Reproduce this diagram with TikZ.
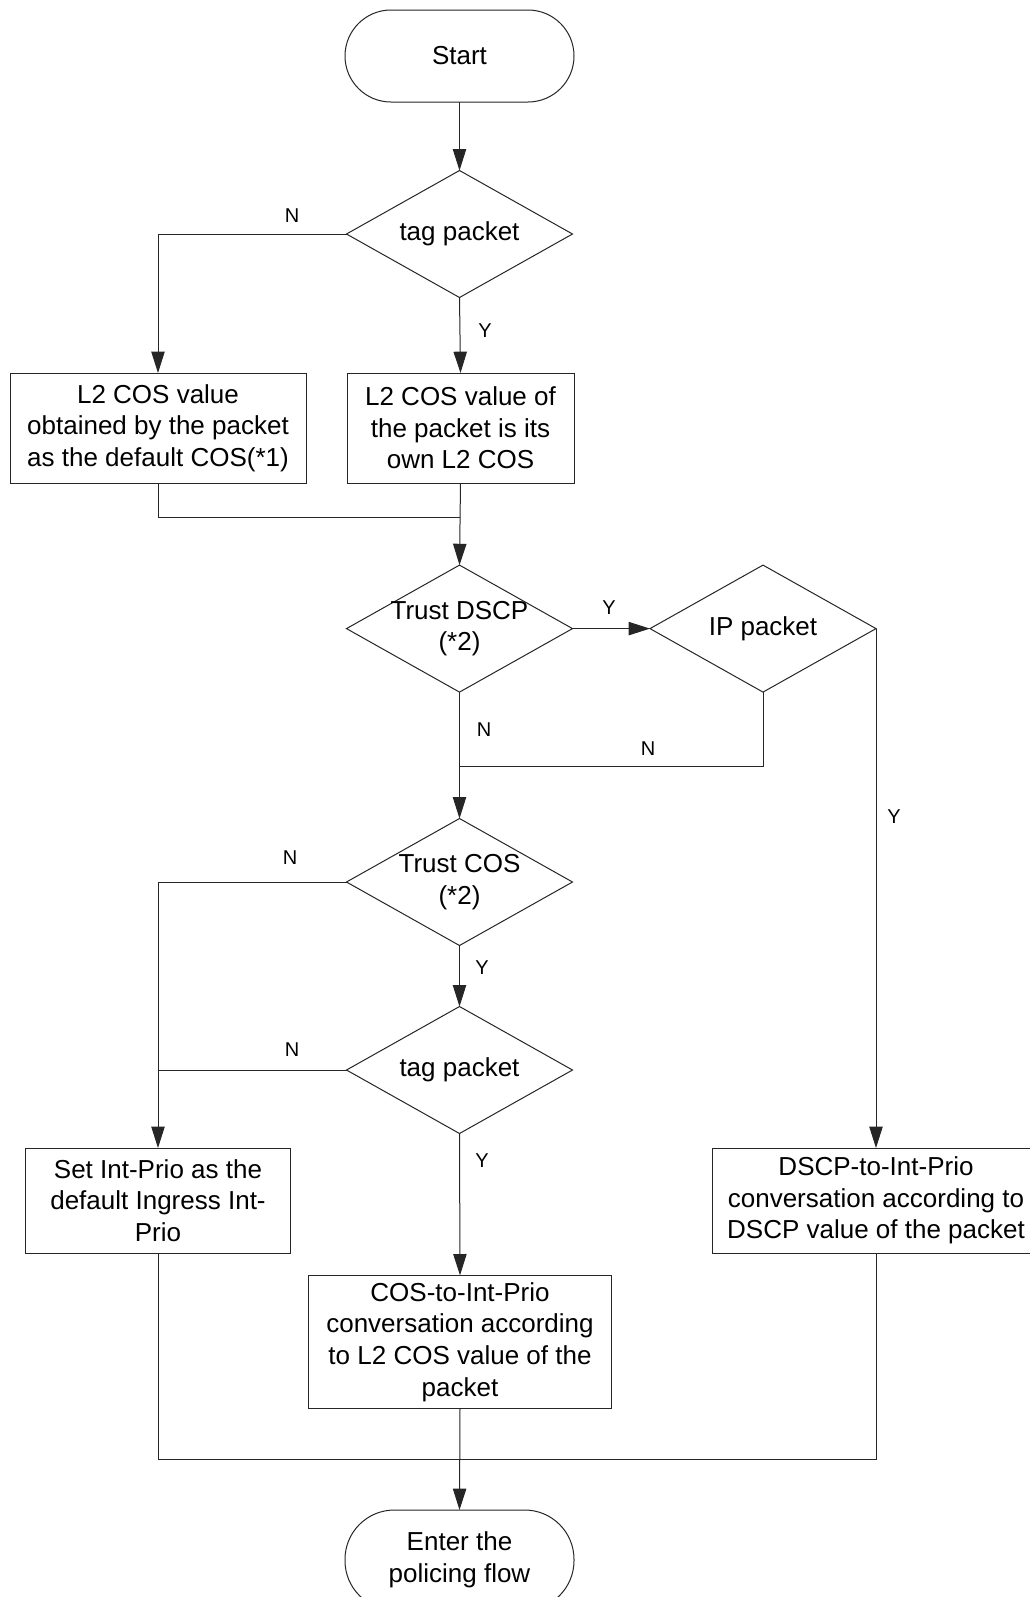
\documentclass[tikz,border=0pt]{standalone}
\usepackage{fontspec}
\setmainfont{Liberation Sans}
\usetikzlibrary{shapes.geometric,arrows.meta}
\begin{document}
\begin{tikzpicture}[x=0.75pt,y=-0.75pt,
  every node/.style={inner sep=0pt,outer sep=0pt},
  txt/.style={font=\fontsize{19.5pt}{23.7pt}\selectfont,align=center},
  lbl/.style={font=\fontsize{15pt}{18pt}\selectfont},
  term/.style={draw=black!85,line width=0.75pt,rectangle,rounded corners=34.5pt,minimum width=171.75pt,minimum height=69pt},
  procbox/.style={draw=black!85,line width=0.75pt,rectangle,txt},
  dec/.style={draw=black!85,line width=0.75pt,diamond,minimum width=169.5pt,minimum height=95.25pt},
  conn/.style={draw=black!85,line width=0.75pt},
  arr/.style={conn,-{Triangle[length=16pt,width=10pt]}}]
\useasboundingbox (0,0) rectangle (1030,1597);
\fill[white] (0,0) rectangle (1030,1597);
% nodes
\node[term,txt] (start) at (459.5,56) {Start};
\node[dec] (d1) at (459.5,234) {};
\node[txt] (d1t) at (d1) {tag packet};
\node[procbox,minimum width=222pt,minimum height=82.5pt] (boxL) at (158,428) {L2 COS value\\obtained by the packet\\as the default COS(*1)};
\node[procbox,minimum width=170.25pt,minimum height=82.5pt] (boxR) at (460.5,428) {L2 COS value of\\the packet is its\\own L2 COS};
\node[dec] (d2) at (459.5,628.6) {};
\node[txt] (d2t) at (d2) {Trust DSCP\\(*2)};
\node[dec] (d3) at (763,628.6) {};
\node[txt] (d3t) at (d3) {IP packet};
\node[dec] (d4) at (459.5,882) {};
\node[txt] (d4t) at (d4) {Trust COS\\(*2)};
\node[dec] (d5) at (459.5,1070) {};
\node[txt] (d5t) at (d5) {tag packet};
\node[procbox,minimum width=198.75pt,minimum height=78.75pt] (setb) at (158,1200.5) {Set Int-Prio as the\\default Ingress Int-\\Prio};
\node[procbox,minimum width=227pt,minimum height=100pt] (cosb) at (460,1342) {COS-to-Int-Prio\\conversation according\\to L2 COS value of the\\packet};
\node[procbox,minimum width=246pt,minimum height=78.75pt] (dscpb) at (876,1200.5) {DSCP-to-Int-Prio\\conversation according to\\DSCP value of the packet};
\node[term,txt,minimum height=75pt,rounded corners=37pt] (endn) at (459.5,1560) {Enter the\\policing flow};
% coordinates
\coordinate (m1) at (459.5,517.5);
\coordinate (m2) at (459.5,766);
\coordinate (m3) at (459.5,1459);
% connectors
\draw[arr] (start.south) -- (d1.north);
\draw[arr] (d1.west) -| (boxL.north);
\draw[arr] (d1.south) -- (boxR.north);
\draw[conn] (boxL.south) |- (m1);
\draw[arr] (boxR.south) -- (d2.north);
\draw[arr] (d2.east) -- (d3.west);
\draw[arr] (d2.south) -- (d4.north);
\draw[conn] (d3.south) |- (m2);
\draw[arr] (d3.east) -- (dscpb.north);
\draw[arr] (d4.west) -| (setb.north);
\draw[conn] (d5.west) -- (d5.west -| setb.north);
\draw[arr] (d4.south) -- (d5.north);
\draw[arr] (d5.south) -- (cosb.north);
\draw[conn] (setb.south) |- (m3);
\draw[conn] (dscpb.south) |- (m3);
\draw[arr] (cosb.south) -- (endn.north);
% labels
\node[lbl] (n1) at (292,216) {N};
\node[lbl] (y1) at (485,331) {Y};
\node[lbl] (y2) at (609,608) {Y};
\node[lbl] (n2) at (484,730) {N};
\node[lbl] (n3) at (648,749) {N};
\node[lbl] (y3) at (894,817) {Y};
\node[lbl] (n4) at (290,858) {N};
\node[lbl] (y4) at (482,968) {Y};
\node[lbl] (n5) at (292,1050) {N};
\node[lbl] (y5) at (482,1161) {Y};
\end{tikzpicture}
\end{document}
